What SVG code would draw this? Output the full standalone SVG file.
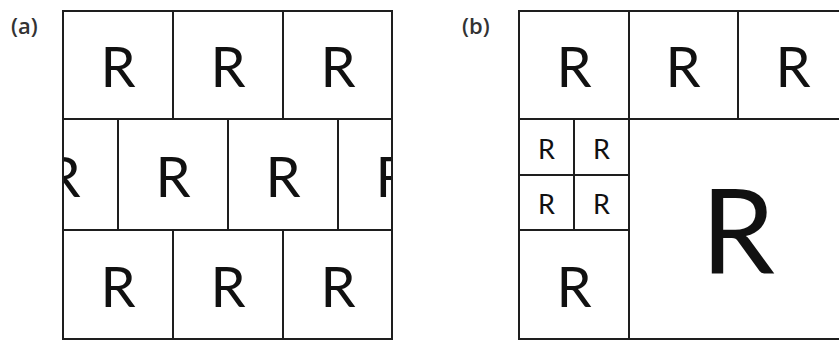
<svg xmlns="http://www.w3.org/2000/svg" width="839" height="340" viewBox="0 0 839 340">
<defs>
<style>
.c{fill:#fff;stroke:#1e1e1e;stroke-width:2}
.r{font-family:Lato,"Noto Sans",sans-serif;font-weight:400;fill:#111;text-anchor:middle}
.m{font-size:56px}
.s{font-size:27px}
.b{font-size:118px}
.lab{font-family:"Open Sans","Noto Sans",sans-serif;font-size:22px;font-weight:600;fill:#333}
</style>
<clipPath id="clipA"><rect x="62" y="10" width="331" height="331"/></clipPath>
<clipPath id="clipB"><rect x="518" y="10" width="321" height="331"/></clipPath>
</defs>
<rect width="839" height="340" fill="#fff"/>
<text class="lab" x="11" y="34">(a)</text>
<text class="lab" x="462" y="34">(b)</text>
<g id="panelA" clip-path="url(#clipA)">
<g id="a1"><rect class="c" x="63" y="11" width="110" height="108"/><text class="r m" x="118" y="87">R</text></g>
<g id="a2"><rect class="c" x="173" y="11" width="110" height="108"/><text class="r m" x="228" y="87">R</text></g>
<g id="a3"><rect class="c" x="283" y="11" width="109" height="108"/><text class="r m" x="338" y="87">R</text></g>
<g id="a4"><rect class="c" x="8" y="119" width="110" height="111"/><text class="r m" x="63" y="197">R</text></g>
<g id="a5"><rect class="c" x="118" y="119" width="110" height="111"/><text class="r m" x="173" y="197">R</text></g>
<g id="a6"><rect class="c" x="228" y="119" width="110" height="111"/><text class="r m" x="283" y="197">R</text></g>
<g id="a7"><rect class="c" x="338" y="119" width="110" height="111"/><text class="r m" x="393" y="197">R</text></g>
<g id="a8"><rect class="c" x="63" y="230" width="110" height="109"/><text class="r m" x="118" y="307">R</text></g>
<g id="a9"><rect class="c" x="173" y="230" width="110" height="109"/><text class="r m" x="228" y="307">R</text></g>
<g id="a10"><rect class="c" x="283" y="230" width="109" height="109"/><text class="r m" x="338" y="307">R</text></g>
<rect x="63" y="11" width="329" height="328" fill="none" stroke="#1e1e1e" stroke-width="2"/>
</g>
<g id="panelB" clip-path="url(#clipB)">
<g id="b1"><rect class="c" x="519" y="11" width="110" height="108"/><text class="r m" x="574" y="87">R</text></g>
<g id="b2"><rect class="c" x="629" y="11" width="109" height="108"/><text class="r m" x="683" y="87">R</text></g>
<g id="b3"><rect class="c" x="738" y="11" width="110" height="108"/><text class="r m" x="793" y="87">R</text></g>
<g id="b4"><rect class="c" x="519" y="119" width="55" height="56"/><text class="r s" x="546.5" y="159">R</text></g>
<g id="b5"><rect class="c" x="574" y="119" width="55" height="56"/><text class="r s" x="601.5" y="159">R</text></g>
<g id="b6"><rect class="c" x="519" y="175" width="55" height="55"/><text class="r s" x="546.5" y="214">R</text></g>
<g id="b7"><rect class="c" x="574" y="175" width="55" height="55"/><text class="r s" x="601.5" y="214">R</text></g>
<g id="b8"><rect class="c" x="519" y="230" width="110" height="109"/><text class="r m" x="574" y="307">R</text></g>
<g id="b9"><rect class="c" x="629" y="119" width="220" height="220"/><text class="r b" x="738" y="273">R</text></g>
</g>
<g id="connectors"/>
</svg>
